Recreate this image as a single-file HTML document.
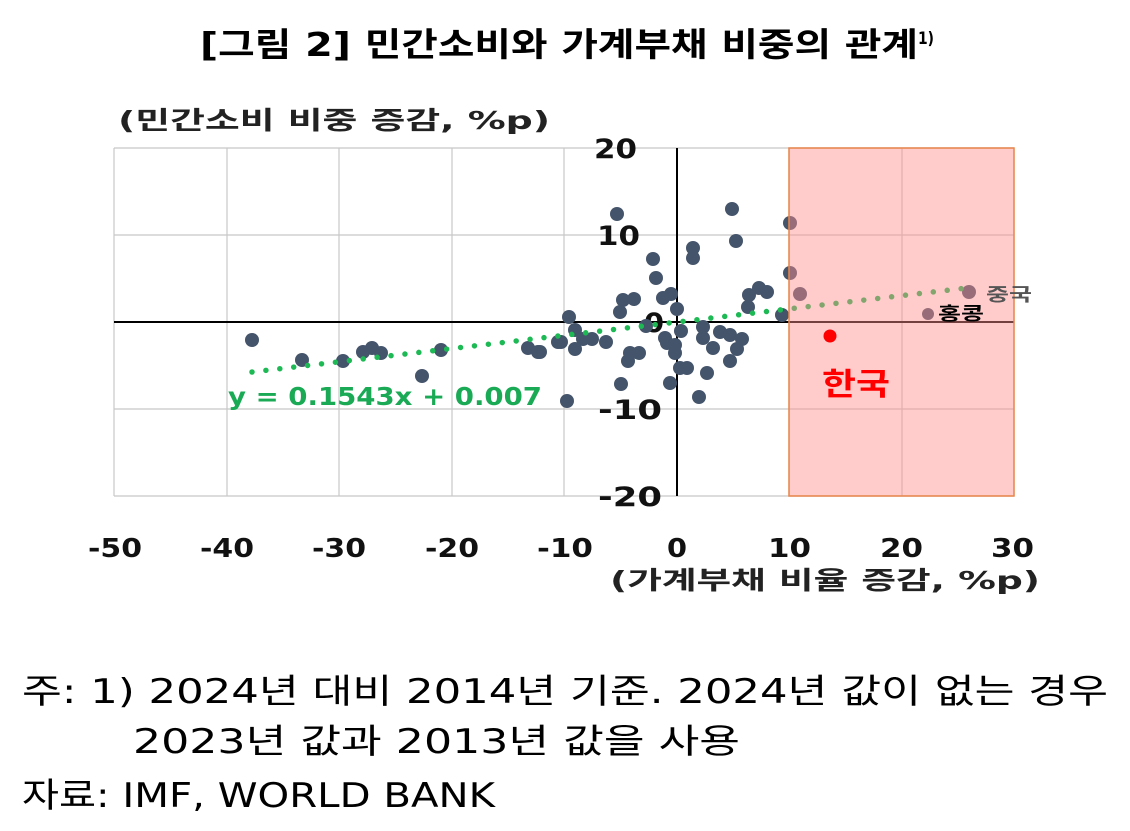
<!DOCTYPE html><html><head><meta charset="utf-8"><style>body{margin:0;background:#fff;width:1130px;height:826px;overflow:hidden}</style></head><body>
<svg width="1130" height="826" xmlns="http://www.w3.org/2000/svg" font-family="'DejaVu Sans','Noto Sans CJK KR',sans-serif">
<text x="200" y="56" font-size="33" font-weight="bold" fill="#000" textLength="718" lengthAdjust="spacingAndGlyphs">[그림 2] 민간소비와 가계부채 비중의 관계</text>
<text x="918" y="44" font-size="17" font-weight="bold" fill="#000" textLength="16" lengthAdjust="spacingAndGlyphs">1)</text>
<text x="118" y="129" font-size="25" font-weight="bold" fill="#222" textLength="432" lengthAdjust="spacingAndGlyphs">(민간소비 비중 증감, %p)</text>
<g stroke="#c8c8c8" stroke-width="1.2">
<line x1="114" y1="148" x2="1014" y2="148"/><line x1="114" y1="235" x2="1014" y2="235"/><line x1="114" y1="409" x2="1014" y2="409"/><line x1="114" y1="496" x2="1014" y2="496"/>
<line x1="114" y1="148" x2="114" y2="496"/><line x1="227" y1="148" x2="227" y2="496"/><line x1="339" y1="148" x2="339" y2="496"/><line x1="452" y1="148" x2="452" y2="496"/><line x1="564" y1="148" x2="564" y2="496"/><line x1="789" y1="148" x2="789" y2="496"/><line x1="902" y1="148" x2="902" y2="496"/><line x1="1014" y1="148" x2="1014" y2="496"/>
</g>
<line x1="114" y1="322" x2="1014" y2="322" stroke="#000" stroke-width="2"/>
<line x1="677" y1="148" x2="677" y2="496" stroke="#000" stroke-width="2"/>
<g font-size="27" font-weight="bold" fill="#111">
<text x="594" y="158" textLength="43" lengthAdjust="spacingAndGlyphs">20</text><text x="597" y="245" textLength="43" lengthAdjust="spacingAndGlyphs">10</text><text x="644" y="332" textLength="20" lengthAdjust="spacingAndGlyphs">0</text><text x="598" y="419" textLength="64" lengthAdjust="spacingAndGlyphs">-10</text><text x="598" y="506" textLength="64" lengthAdjust="spacingAndGlyphs">-20</text>
</g>
<g font-size="26" font-weight="bold" fill="#111">
<text x="88" y="557" textLength="54" lengthAdjust="spacingAndGlyphs">-50</text><text x="200" y="557" textLength="54" lengthAdjust="spacingAndGlyphs">-40</text><text x="312" y="557" textLength="54" lengthAdjust="spacingAndGlyphs">-30</text><text x="425" y="557" textLength="54" lengthAdjust="spacingAndGlyphs">-20</text><text x="537" y="557" textLength="56" lengthAdjust="spacingAndGlyphs">-10</text><text x="667" y="557" textLength="20" lengthAdjust="spacingAndGlyphs">0</text><text x="768" y="557" textLength="43" lengthAdjust="spacingAndGlyphs">10</text><text x="880" y="557" textLength="43" lengthAdjust="spacingAndGlyphs">20</text><text x="991" y="557" textLength="43" lengthAdjust="spacingAndGlyphs">30</text>
</g>
<text x="610" y="589" font-size="25" font-weight="bold" fill="#222" textLength="430" lengthAdjust="spacingAndGlyphs">(가계부채 비율 증감, %p)</text>
<g fill="#44546a">
<circle cx="617" cy="214" r="7"/><circle cx="732" cy="209" r="7"/><circle cx="790" cy="223" r="7"/><circle cx="736" cy="241" r="7"/><circle cx="693" cy="248" r="7"/><circle cx="693" cy="258" r="7"/><circle cx="653" cy="259" r="7"/><circle cx="656" cy="278" r="7"/><circle cx="790" cy="273" r="7"/><circle cx="800" cy="294" r="7"/><circle cx="749" cy="295" r="7"/><circle cx="759" cy="288" r="7"/><circle cx="767" cy="292" r="7"/><circle cx="623" cy="300" r="7"/><circle cx="634" cy="299" r="7"/><circle cx="663" cy="298" r="7"/><circle cx="671" cy="294" r="7"/><circle cx="677" cy="309" r="7"/><circle cx="748" cy="307" r="7"/><circle cx="782" cy="315" r="7"/><circle cx="569" cy="317" r="7"/><circle cx="620" cy="312" r="7"/><circle cx="646" cy="326" r="7"/><circle cx="575" cy="330" r="7"/><circle cx="561" cy="342" r="7"/><circle cx="583" cy="339" r="7"/><circle cx="592" cy="339" r="7"/><circle cx="606" cy="342" r="7"/><circle cx="575" cy="349" r="7"/><circle cx="681" cy="331" r="7"/><circle cx="703" cy="327" r="7"/><circle cx="703" cy="338" r="7"/><circle cx="720" cy="332" r="7"/><circle cx="730" cy="335" r="7"/><circle cx="742" cy="339" r="7"/><circle cx="713" cy="348" r="7"/><circle cx="737" cy="349" r="7"/><circle cx="730" cy="361" r="7"/><circle cx="665" cy="338" r="7"/><circle cx="667" cy="343" r="7"/><circle cx="675" cy="345" r="7"/><circle cx="675" cy="353" r="7"/><circle cx="630" cy="353" r="7"/><circle cx="639" cy="353" r="7"/><circle cx="628" cy="361" r="7"/><circle cx="680" cy="368" r="7"/><circle cx="687" cy="368" r="7"/><circle cx="707" cy="373" r="7"/><circle cx="621" cy="384" r="7"/><circle cx="670" cy="383" r="7"/><circle cx="699" cy="397" r="7"/><circle cx="567" cy="401" r="7"/><circle cx="540" cy="352" r="7"/>
<circle cx="252" cy="340" r="7"/><circle cx="302" cy="360" r="7"/><circle cx="343" cy="361" r="7"/><circle cx="363" cy="352" r="7"/><circle cx="372" cy="348" r="7"/><circle cx="381" cy="353" r="7"/><circle cx="422" cy="376" r="7"/><circle cx="441" cy="350" r="7"/><circle cx="528" cy="348" r="7"/><circle cx="538" cy="352" r="7"/><circle cx="558" cy="342" r="7"/>
<circle cx="928" cy="314" r="6"/><circle cx="969" cy="292" r="7"/>
</g>
<line x1="252" y1="372" x2="975" y2="287" stroke="#1db954" stroke-width="5.5" stroke-linecap="round" stroke-dasharray="0 14"/>
<rect x="789" y="148" width="225" height="348" fill="rgba(255,140,140,0.45)" stroke="#e8864a" stroke-width="1.5"/>
<circle cx="830" cy="336" r="6.5" fill="#f00"/>
<text x="228" y="405" font-size="25" font-weight="bold" fill="#1aaa55" textLength="314" lengthAdjust="spacingAndGlyphs">y = 0.1543x + 0.007</text>
<text x="822" y="395" font-size="31" font-weight="bold" fill="#f00" textLength="68" lengthAdjust="spacingAndGlyphs">한국</text>
<text x="938" y="320" font-size="18" font-weight="bold" fill="#000" textLength="46" lengthAdjust="spacingAndGlyphs">홍콩</text>
<text x="986" y="301" font-size="18" font-weight="bold" fill="#555" textLength="46" lengthAdjust="spacingAndGlyphs">중국</text>
<g font-size="34" fill="#000">
<text x="22" y="703" textLength="1086" lengthAdjust="spacingAndGlyphs">주: 1) 2024년  대비  2014년  기준. 2024년  값이  없는  경우</text>
<text x="133" y="753" textLength="607" lengthAdjust="spacingAndGlyphs">2023년  값과  2013년  값을  사용</text>
<text x="22" y="807" textLength="473" lengthAdjust="spacingAndGlyphs">자료: IMF, WORLD BANK</text>
</g>
</svg></body></html>
